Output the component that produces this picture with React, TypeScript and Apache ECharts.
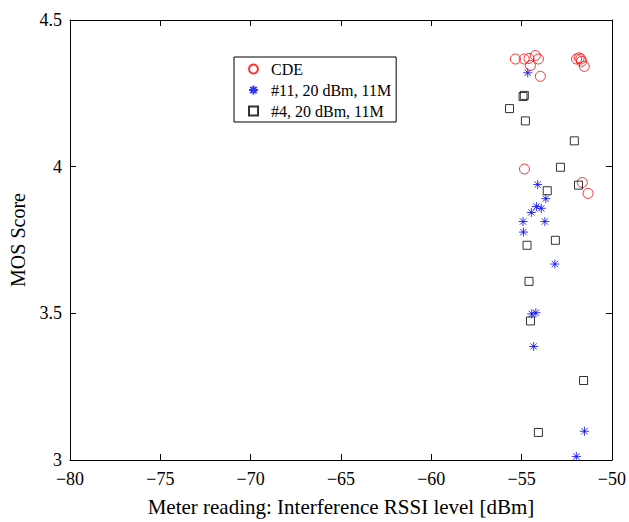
import React, { useEffect, useRef } from "react";
import * as echarts from "echarts";

const cdeX = [-55.34, -54.86, -54.59, -54.24, -54.07, -54.51, -53.96, -51.96, -51.81, -51.72, -51.68, -51.53, -54.84, -51.64, -51.32];
const cdeY = [4.367, 4.367, 4.369, 4.379, 4.367, 4.345, 4.308, 4.367, 4.371, 4.367, 4.359, 4.342, 3.992, 3.946, 3.909];

const s11X = [-54.66, -54.11, -53.66, -54.18, -53.91, -54.46, -54.92, -53.71, -54.9, -53.16, -54.44, -54.21, -54.33, -51.52, -51.97];
const s11Y = [4.32, 3.939, 3.891, 3.864, 3.858, 3.844, 3.813, 3.813, 3.777, 3.668, 3.498, 3.502, 3.387, 3.098, 3.012];

const s4X = [-54.92, -54.85, -55.67, -54.79, -52.08, -52.85, -51.85, -53.58, -53.13, -54.7, -54.59, -54.51, -51.57, -54.07];
const s4Y = [4.239, 4.243, 4.198, 4.156, 4.088, 3.998, 3.937, 3.918, 3.749, 3.732, 3.609, 3.474, 3.271, 3.094];

const seriesNames = ["CDE", "#11, 20 dBm, 11M", "#4, 20 dBm, 11M"];
const xTicks = [-80, -75, -70, -65, -60, -55, -50];
const yTicks = [3, 3.5, 4, 4.5];

const FONT = "'Liberation Serif', 'Times New Roman', serif";
const ASTERISK = "path://M5,0 L5,10 M0,5 L10,5 M1.5,1.5 L8.5,8.5 M1.5,8.5 L8.5,1.5";
const SQUARE = "path://M0,0 L10,0 L10,10 L0,10 Z";

const zip = (xs: number[], ys: number[]) => xs.map((x, i) => [x, ys[i]]);

export default function App() {
  const ref = useRef<HTMLDivElement>(null);
  useEffect(() => {
    if (!ref.current) return;
    const chart = echarts.init(ref.current, null, { renderer: "svg" });
    const axisCommon = {
      axisLine: { show: true, lineStyle: { color: "#000", width: 1 } },
      axisTick: { show: true, inside: true, length: 6, lineStyle: { color: "#000" } },
      splitLine: { show: false },
    };
    chart.setOption({
      animation: false,
      backgroundColor: "#fff",
      textStyle: { fontFamily: FONT },
      grid: { left: 66, top: 20, right: 16, bottom: 58 },
      legend: {
        show: true,
        orient: "vertical",
        left: 234,
        top: 57,
        padding: [4, 5, 3, 14],
        itemGap: 5,
        itemWidth: 25,
        itemHeight: 9,
        symbolKeepAspect: true,
        borderColor: "#000",
        borderWidth: 1,
        backgroundColor: "#fff",
        textStyle: { fontFamily: FONT, fontSize: 16, color: "#000" },
        data: [
          { name: seriesNames[0], icon: "circle" },
          { name: seriesNames[1], icon: ASTERISK },
          { name: seriesNames[2], icon: SQUARE },
        ],
      },
      xAxis: [
        {
          type: "value",
          min: -80,
          max: -50,
          interval: 5,
          position: "bottom",
          ...axisCommon,
          axisLabel: {
            color: "#000",
            fontFamily: FONT,
            fontSize: 18,
            margin: 10,
            formatter: (v: number) => (xTicks.includes(v) ? String(v).replace("-", "\u2212") : ""),
          },
          name: "Meter reading: Interference RSSI level [dBm]",
          nameLocation: "middle",
          nameGap: 36,
          nameTextStyle: { color: "#000", fontFamily: FONT, fontSize: 21 },
        },
        {
          type: "value",
          min: -80,
          max: -50,
          interval: 5,
          position: "top",
          ...axisCommon,
          axisLabel: { show: false },
        },
      ],
      yAxis: [
        {
          type: "value",
          min: 3,
          max: 4.5,
          interval: 0.5,
          position: "left",
          ...axisCommon,
          axisLabel: {
            color: "#000",
            fontFamily: FONT,
            fontSize: 18,
            margin: 8,
            formatter: (v: number) => (yTicks.includes(v) ? String(v) : ""),
          },
          name: "MOS Score",
          nameLocation: "middle",
          nameGap: 42,
          nameRotate: 90,
          nameTextStyle: { color: "#000", fontFamily: FONT, fontSize: 20 },
        },
        {
          type: "value",
          min: 3,
          max: 4.5,
          interval: 0.5,
          position: "right",
          ...axisCommon,
          axisLabel: { show: false },
        },
      ],
      series: [
        {
          name: seriesNames[0],
          type: "scatter",
          symbol: "circle",
          symbolSize: 10,
          itemStyle: { color: "transparent", borderColor: "#ff0000", borderWidth: 1 },
          data: zip(cdeX, cdeY),
        },
        {
          name: seriesNames[1],
          type: "scatter",
          symbol: ASTERISK,
          symbolSize: 9,
          itemStyle: { color: "transparent", borderColor: "#0000ff", borderWidth: 1 },
          data: zip(s11X, s11Y),
        },
        {
          name: seriesNames[2],
          type: "scatter",
          symbol: SQUARE,
          symbolSize: 8,
          itemStyle: { color: "transparent", borderColor: "#000", borderWidth: 1 },
          data: zip(s4X, s4Y),
        },
      ],
    });
    return () => chart.dispose();
  }, []);
  return (
    <div
      ref={ref}
      style={{ position: "fixed", left: 0, top: 0, width: 629, height: 522, background: "#fff" }}
    />
  );
}
